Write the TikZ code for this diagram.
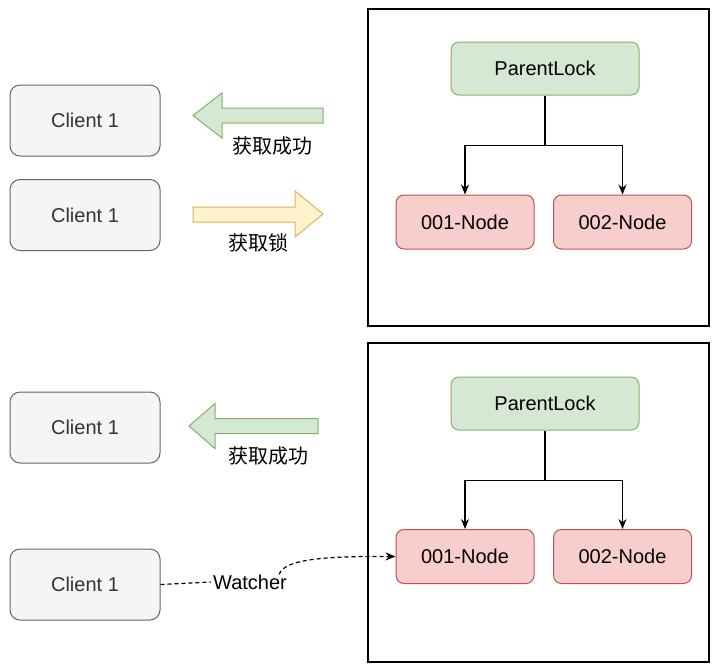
\documentclass[tikz,border=0pt]{standalone}
\usepackage{fontspec}
\setmainfont{Liberation Sans}
\newfontfamily\cjkfont{Noto Sans CJK SC}
\usepackage{xcolor}
\usepackage{tikz}
\usetikzlibrary{arrows.meta,positioning}

\definecolor{greyfill}{HTML}{F5F5F5}
\definecolor{greyline}{HTML}{666666}
\definecolor{greytext}{HTML}{333333}
\definecolor{greenfill}{HTML}{D5E8D4}
\definecolor{greenline}{HTML}{82B366}
\definecolor{redfill}{HTML}{F8CECC}
\definecolor{redline}{HTML}{B85450}
\definecolor{yellowfill}{HTML}{FFF2CC}
\definecolor{yellowline}{HTML}{D6B656}

\tikzset{
	client/.style={draw=greyline,fill=greyfill,text=greytext,rounded corners=5pt,line width=0.5pt,minimum width=75pt,minimum height=35.5pt,font=\fontsize{10}{12}\selectfont},
	parent/.style={draw=greenline,fill=greenfill,rounded corners=4pt,line width=0.5pt,minimum width=94pt,minimum height=26.5pt,font=\fontsize{10}{12}\selectfont},
	child/.style={draw=redline,fill=redfill,rounded corners=4pt,line width=0.5pt,minimum width=69pt,minimum height=27pt,font=\fontsize{10}{12}\selectfont},
	frame/.style={draw=black,line width=0.7pt},
	link/.style={line width=0.6pt,-{Stealth[length=5pt,width=4pt]}},
	okarrow/.style={draw=greenline,fill=greenfill,line width=0.5pt},
	lockarrow/.style={draw=yellowline,fill=yellowfill,line width=0.5pt},
	cjklabel/.style={font=\cjkfont\fontsize{10}{12}\selectfont,inner sep=1pt},
	watchlabel/.style={fill=white,inner sep=1pt,font=\fontsize{10}{12}\selectfont},
	watchline/.style={line width=0.6pt,dash pattern=on 2pt off 1.5pt}
}

\begin{document}
\begin{tikzpicture}[x=0.5pt,y=-0.5pt]
	\useasboundingbox (0,0) rectangle (716,670);
	% clients
	\node[client] (c1) at (85,120.5) {Client 1};
	\node[client] (c2) at (85,215) {Client 1};
	\node[client] (c3) at (85,427.5) {Client 1};
	\node[client] (c4) at (85,584.5) {Client 1};
	% upper part
	\draw[frame] (368,9) rectangle (709,326);
	\node[parent] (p1) at (545,68.5) {ParentLock};
	\node[child] (a1) at (465,222) {001-Node};
	\node[child] (b1) at (622.5,222) {002-Node};
	\draw[link] (p1.south) -- ++(0,50) -| (a1.north);
	\draw[link] (p1.south) -- ++(0,50) -| (b1.north);
	\draw[okarrow] (323,108) -- (222,108) -- (222,93) -- (193,115.5) -- (222,138) -- (222,123) -- (323,123) -- cycle;
	\node[cjklabel] (t1) at (272,146) {获取成功};
	\draw[lockarrow] (193,207) -- (295,207) -- (295,191) -- (323,214) -- (295,237) -- (295,222) -- (193,222) -- cycle;
	\node[cjklabel] (t2) at (258,243) {获取锁};
	% lower part
	\draw[frame] (368,343) rectangle (709,662);
	\node[parent] (p2) at (545,403.5) {ParentLock};
	\node[child] (a2) at (465,556.5) {001-Node};
	\node[child] (b2) at (622.5,556.5) {002-Node};
	\draw[link] (p2.south) -- ++(0,50) -| (a2.north);
	\draw[link] (p2.south) -- ++(0,50) -| (b2.north);
	\draw[okarrow] (318,418.5) -- (215,418.5) -- (215,403.5) -- (189,426) -- (215,448.5) -- (215,433.5) -- (318,433.5) -- cycle;
	\node[cjklabel] (t3) at (268,456) {获取成功};
	% watcher
	\node[watchlabel] (w) at (250,582) {Watcher};
	\draw[watchline] (c4.east) -- (w.west);
	\draw[watchline,-{Stealth[length=5pt,width=4pt]}] ([xshift=-5pt,yshift=-1pt]w.north east) .. controls (284,560) and (320,556) .. (a2.west);
\end{tikzpicture}
\end{document}
